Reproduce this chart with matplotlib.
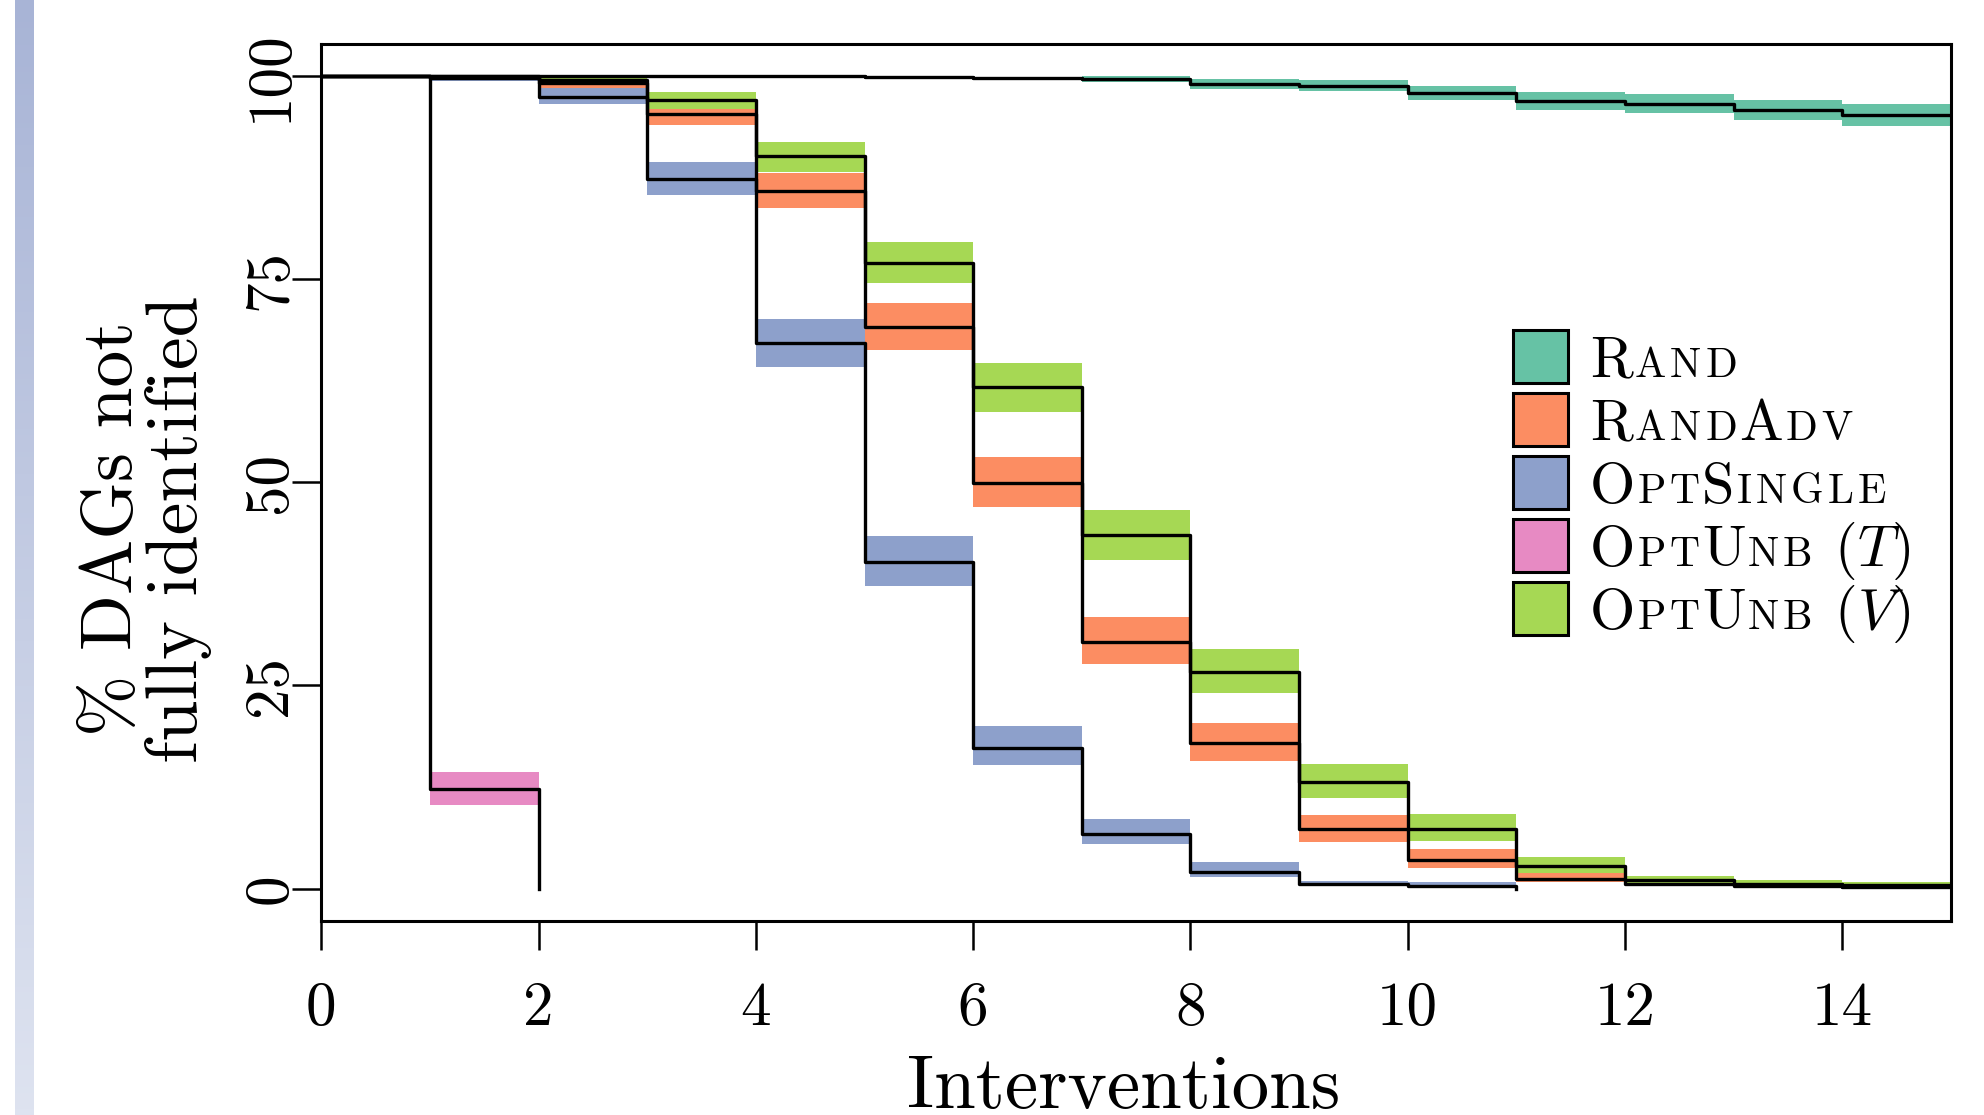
import numpy as np
import matplotlib
matplotlib.use("Agg")
import matplotlib.pyplot as plt
from matplotlib.patches import Rectangle
from matplotlib.offsetbox import TextArea, HPacker, AnnotationBbox

plt.rcParams['font.family'] = 'cmr10'
plt.rcParams['mathtext.fontset'] = 'cm'
plt.rcParams['axes.formatter.use_mathtext'] = True

# values on each interval [k, k+1]; the band is lo..hi
rand_mean = [100, 100, 100, 100, 100, 99.88, 99.8, 99.59, 98.97, 98.77, 97.87, 96.96, 96.56, 95.86, 95.2]
rand_lo = [100, 100, 100, 100, 100, 99.8, 99.7, 99.22, 98.4, 98.1, 97.0, 95.8, 95.5, 94.55, 93.9]
rand_hi = [100, 100, 100, 100, 100, 99.95, 99.9, 99.96, 99.63, 99.47, 98.77, 97.99, 97.75, 97.05, 96.5]

randadv_mean = [100, 99.9, 99.2, 95.29, 85.86, 69.1, 49.92, 30.32, 17.95, 7.29, 3.48, 1.14, 0.6, 0.3, 0.2]
randadv_lo = [100, 99.8, 98.5, 93.97, 83.73, 66.31, 46.92, 27.66, 15.69, 5.73, 2.58, 0.74, 0.3, 0.1, 0.05]
randadv_hi = [100, 100, 99.4, 95.9, 88.04, 72.05, 53.12, 33.39, 20.41, 9.01, 4.83, 1.97, 0.9, 0.5, 0.35]

optsingle_mean = [100, 99.8, 97.46, 87.33, 67.18, 40.21, 17.34, 6.68, 2.09, 0.5, 0.3]
optsingle_lo = [100, 99.4, 96.56, 85.36, 64.23, 37.29, 15.22, 5.42, 1.43, 0.3, 0.2]
optsingle_hi = [100, 100, 98.49, 89.46, 70.13, 43.35, 19.99, 8.52, 3.32, 0.9, 0.8]

optunb_t_mean = [100, 12.21]
optunb_t_lo = [100, 10.24]
optunb_t_hi = [100, 14.3]

optunb_v_mean = [100, 99.95, 99.5, 97.04, 90.16, 76.97, 61.72, 43.48, 26.63, 13.16, 7.29, 2.78, 1.1, 0.6, 0.4]
optunb_v_lo = [100, 99.85, 99.3, 95.9, 88.23, 74.51, 58.65, 40.49, 24.01, 11.19, 5.85, 1.88, 0.7, 0.3, 0.2]
optunb_v_hi = [100, 100, 100, 98.07, 91.92, 79.63, 64.67, 46.64, 29.51, 15.37, 9.14, 3.93, 1.6, 1.0, 0.8]

# value the step line drops to where a series stops
end_values = [rand_mean[-1], randadv_mean[-1], 0, 0, optunb_v_mean[-1]]

colors = ["#66c2a5", "#fc8d62", "#8da0cb", "#e78ac3", "#a6d854"]
# legend names in small caps: pieces alternate large / small
legend_pieces = [["R", "AND"],
                 ["R", "AND", "A", "DV"],
                 ["O", "PT", "S", "INGLE"],
                 ["O", "PT", "U", "NB", " $(T)$"],
                 ["O", "PT", "U", "NB", " $(V)$"]]

xticks = [0, 2, 4, 6, 8, 10, 12, 14]
yticks = [0, 25, 50, 75, 100]

series = [(rand_mean, rand_lo, rand_hi),
          (randadv_mean, randadv_lo, randadv_hi),
          (optsingle_mean, optsingle_lo, optsingle_hi),
          (optunb_t_mean, optunb_t_lo, optunb_t_hi),
          (optunb_v_mean, optunb_v_lo, optunb_v_hi)]

W, H = 1984, 1115
fig = plt.figure(figsize=(W / 100, H / 100), dpi=100)

# faded bar on the left edge
side = fig.add_axes([15 / W, 0, 19 / W, 1])
top_c = np.array([168, 180, 214]) / 255
bot_c = np.array([222, 227, 240]) / 255
t = np.linspace(0, 1, 200)[:, None, None]
side.imshow(top_c * (1 - t) + bot_c * t, aspect='auto')
side.axis('off')

ax = fig.add_axes([321.4 / W, 1 - 921 / H, 1629.4 / W, 877.5 / H])

# bands
for (mean, lo, hi), c in zip(series, colors):
    lo = np.array(lo)
    hi = np.array(hi)
    ax.bar(np.arange(len(lo)), hi - lo, bottom=lo, width=1, align='edge',
           color=c, linewidth=0, zorder=1)

# step lines
for (mean, lo, hi), end in zip(series, end_values):
    x = np.arange(len(mean) + 1)
    ax.step(x, list(mean) + [end], where='post', color='k', lw=2.4, zorder=2)

ax.set_xlim(0, 15)
ax.set_ylim(-4, 104)
ax.set_xticks(xticks, labels=[str(v) for v in xticks])
ax.set_yticks(yticks, labels=[str(v) for v in yticks], rotation=90, va='center')
ax.tick_params(axis='both', direction='out', length=21, width=1.8, labelsize=44)
ax.tick_params(axis='x', pad=23)
ax.tick_params(axis='y', pad=-4.5)
for s in ax.spines.values():
    s.set_linewidth(2.2)

fig.text(147 / W, 1 - 529 / H, "% DAGs not\nfully identified", rotation=90,
         ha='center', va='center', fontsize=53, linespacing=0.98,
         multialignment='center')
fig.text(1124 / W, 1 - 1108 / H, "Interventions", ha='center',
         va='baseline', fontsize=54)

# legend
ax_h = 877.5
sw_left = (1513 - 321.4) / 1629.4
sw_w = 55 / 1629.4
sw_h = 53 / ax_h
txt_left = (1590 - 321.4) / 1629.4
for i, (pieces, c) in enumerate(zip(legend_pieces, colors)):
    yc_px = 356.8 + 63 * i
    yc = 1 - (yc_px - 43.5) / ax_h
    ax.add_patch(Rectangle((sw_left, yc - sw_h / 2), sw_w, sw_h,
                           transform=ax.transAxes, clip_on=False,
                           facecolor=c, edgecolor='k', lw=2.2, zorder=5))
    groups = []
    for j, p in enumerate(pieces):
        if j % 2 == 0:
            groups.append(TextArea(p, textprops=dict(fontsize=42)))
        else:
            letters = [TextArea(ch, textprops=dict(fontsize=30)) for ch in p]
            groups.append(HPacker(children=letters, sep=2.9, pad=0, align='baseline'))
    row = HPacker(children=groups, sep=1.5, pad=0, align='baseline')
    ab = AnnotationBbox(row, (txt_left, yc - 5.3 / ax_h), xycoords='axes fraction',
                        box_alignment=(0, 0.5), frameon=False, pad=0)
    ax.add_artist(ab)

fig.savefig("out.png", dpi=100)
